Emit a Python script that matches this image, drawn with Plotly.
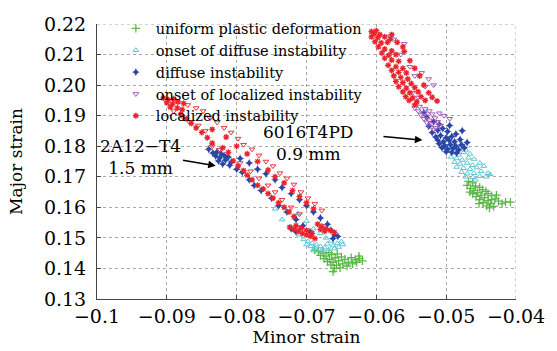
import plotly.graph_objects as go

# ---------------- data (minor strain, major strain) ----------------
# 2A12-T4, 1.5 mm
A_uniform = [(-0.0683,0.1455),(-0.0676,0.1450),(-0.0668,0.1452),(-0.0680,0.1443),(-0.0672,0.1440),
             (-0.0664,0.1445),(-0.0656,0.1448),(-0.0675,0.1432),(-0.0667,0.1430),(-0.0659,0.1435),
             (-0.0650,0.1438),(-0.0670,0.1422),(-0.0662,0.1420),(-0.0654,0.1425),(-0.0645,0.1430),
             (-0.0665,0.1412),(-0.0657,0.1410),(-0.0648,0.1415),(-0.0640,0.1420),(-0.0660,0.1400),
             (-0.0652,0.1402),(-0.0662,0.1390),(-0.0636,0.1435),(-0.0630,0.1428),(-0.0624,0.1432),
             (-0.0628,0.1420),(-0.0620,0.1425),(-0.0634,0.1415),(-0.0642,0.1408),(-0.0625,0.1440),
             (-0.0688,0.1460)]
A_onset_diffuse = [(-0.0704,0.1495),(-0.0698,0.1488),(-0.0692,0.1482),(-0.0686,0.1478),(-0.0680,0.1472),
                   (-0.0674,0.1468),(-0.0668,0.1462),(-0.0700,0.1478),(-0.0694,0.1472),(-0.0688,0.1466),
                   (-0.0682,0.1462),(-0.0676,0.1458),(-0.0690,0.1458),(-0.0662,0.1475),(-0.0656,0.1482),
                   (-0.0650,0.1488),(-0.0660,0.1465),(-0.0654,0.1470),(-0.0648,0.1478),(-0.0670,0.1480),
                   (-0.0665,0.1490),(-0.0710,0.1510),(-0.0722,0.1535),(-0.0735,0.1560),(-0.0700,0.1555),
                   (-0.0690,0.1530),(-0.0712,0.1580),(-0.0745,0.1595),(-0.0680,0.1515),(-0.0672,0.1500)]
A_diffuse = [(-0.0834,0.1778),(-0.0828,0.1782),(-0.0822,0.1775),(-0.0830,0.1768),(-0.0824,0.1762),
             (-0.0818,0.1770),(-0.0812,0.1765),(-0.0826,0.1752),(-0.0816,0.1755),(-0.0808,0.1748),
             (-0.0820,0.1742),(-0.0810,0.1738),(-0.0840,0.1790),
             (-0.0800,0.1725),(-0.0792,0.1715),(-0.0782,0.1690),(-0.0775,0.1672),(-0.0765,0.1655),
             (-0.0750,0.1630),(-0.0740,0.1605),(-0.0728,0.1585),(-0.0715,0.1560),(-0.0705,0.1540),
             (-0.0695,0.1520),(-0.0722,0.1530),(-0.0715,0.1520),
             (-0.0795,0.1760),(-0.0782,0.1745),(-0.0770,0.1725),(-0.0758,0.1710),(-0.0745,0.1690),
             (-0.0735,0.1665),(-0.0722,0.1645),(-0.0710,0.1625),(-0.0700,0.1605),(-0.0690,0.1585),
             (-0.0680,0.1565),(-0.0670,0.1545),(-0.0665,0.1525),(-0.0660,0.1510),(-0.0655,0.1505),
             (-0.0662,0.1498)]
A_onset_localized = [(-0.0902,0.1950),(-0.0888,0.1948),(-0.0870,0.1935),(-0.0858,0.1925),(-0.0848,0.1915),
                     (-0.0890,0.1915),(-0.0878,0.1898),(-0.0868,0.1880),(-0.0855,0.1868),(-0.0845,0.1850),
                     (-0.0838,0.1892),(-0.0828,0.1878),(-0.0818,0.1860),(-0.0808,0.1845),(-0.0798,0.1825),
                     (-0.0790,0.1805),(-0.0778,0.1790),(-0.0768,0.1770),(-0.0758,0.1750),(-0.0748,0.1735),
                     (-0.0738,0.1712),(-0.0728,0.1695),(-0.0718,0.1675),(-0.0708,0.1650),(-0.0698,0.1630),
                     (-0.0688,0.1612),(-0.0678,0.1590),(-0.0835,0.1800),(-0.0825,0.1788),(-0.0795,0.1745),
                     (-0.0780,0.1718),(-0.0768,0.1695),(-0.0755,0.1672),(-0.0745,0.1650),(-0.0735,0.1625),
                     (-0.0722,0.1600),(-0.0710,0.1578)]
A_localized = [(-0.0905,0.1958),(-0.0898,0.1952),(-0.0890,0.1955),(-0.0900,0.1942),(-0.0892,0.1938),
               (-0.0884,0.1945),(-0.0876,0.1940),(-0.0895,0.1928),(-0.0885,0.1925),(-0.0878,0.1920),
               (-0.0880,0.1905),(-0.0872,0.1890),(-0.0865,0.1875),(-0.0858,0.1860),(-0.0850,0.1845),
               (-0.0842,0.1828),(-0.0835,0.1810),(-0.0820,0.1795),(-0.0812,0.1780),(-0.0805,0.1752),
               (-0.0798,0.1735),(-0.0790,0.1720),(-0.0785,0.1705),(-0.0778,0.1690),(-0.0770,0.1672),
               (-0.0762,0.1660),(-0.0755,0.1645),(-0.0748,0.1630),(-0.0740,0.1615),(-0.0732,0.1600),
               (-0.0725,0.1585),(-0.0718,0.1570),(-0.0724,0.1535),(-0.0718,0.1528),(-0.0712,0.1522),
               (-0.0706,0.1515),(-0.0700,0.1510),(-0.0694,0.1505),(-0.0688,0.1498),(-0.0715,0.1540),
               (-0.0708,0.1532),(-0.0700,0.1525),(-0.0692,0.1515),
               (-0.0835,0.1855),(-0.0815,0.1830),(-0.0800,0.1800),(-0.0785,0.1775),(-0.0770,0.1750),
               (-0.0755,0.1722),(-0.0745,0.1700),(-0.0732,0.1680),(-0.0720,0.1655),(-0.0710,0.1635),
               (-0.0700,0.1615),(-0.0690,0.1595),(-0.0684,0.1545),(-0.0678,0.1538),(-0.0672,0.1530),
               (-0.0666,0.1525),(-0.0660,0.1518),(-0.0680,0.1528),(-0.0674,0.1522)]

# 6016T4PD, 0.9 mm
B_uniform = [(-0.0468,0.1685),(-0.0462,0.1680),(-0.0470,0.1672),(-0.0458,0.1670),(-0.0465,0.1662),
             (-0.0452,0.1665),(-0.0460,0.1655),(-0.0448,0.1658),(-0.0455,0.1648),(-0.0443,0.1652),
             (-0.0462,0.1645),(-0.0450,0.1640),(-0.0440,0.1645),(-0.0457,0.1635),(-0.0445,0.1632),
             (-0.0435,0.1638),(-0.0452,0.1625),(-0.0440,0.1622),(-0.0430,0.1628),(-0.0447,0.1615),
             (-0.0436,0.1612),(-0.0425,0.1620),(-0.0442,0.1605),(-0.0432,0.1603),(-0.0420,0.1612),
             (-0.0415,0.1618),(-0.0408,0.1617),(-0.0438,0.1598),(-0.0453,0.1612),(-0.0466,0.1650),
             (-0.0428,0.1640),(-0.0435,0.1625)]
B_onset_diffuse = [(-0.0503,0.1795),(-0.0495,0.1800),(-0.0488,0.1792),(-0.0480,0.1796),(-0.0472,0.1788),
                   (-0.0498,0.1785),(-0.0490,0.1778),(-0.0482,0.1772),(-0.0475,0.1780),(-0.0466,0.1775),
                   (-0.0493,0.1765),(-0.0485,0.1760),(-0.0477,0.1755),(-0.0468,0.1762),(-0.0460,0.1758),
                   (-0.0488,0.1748),(-0.0480,0.1742),(-0.0470,0.1745),(-0.0462,0.1738),(-0.0452,0.1745),
                   (-0.0485,0.1732),(-0.0475,0.1728),(-0.0466,0.1725),(-0.0456,0.1730),(-0.0446,0.1735),
                   (-0.0478,0.1715),(-0.0470,0.1710),(-0.0460,0.1712),(-0.0450,0.1718),(-0.0440,0.1712),
                   (-0.0472,0.1700),(-0.0462,0.1698),(-0.0452,0.1702),(-0.0443,0.1700),(-0.0437,0.1708),
                   (-0.0458,0.1690)]
B_diffuse = [(-0.0515,0.1830),(-0.0508,0.1835),(-0.0500,0.1828),(-0.0492,0.1832),(-0.0512,0.1820),
             (-0.0504,0.1815),(-0.0496,0.1820),(-0.0488,0.1815),(-0.0480,0.1822),(-0.0510,0.1808),
             (-0.0502,0.1802),(-0.0494,0.1806),(-0.0486,0.1800),(-0.0478,0.1805),(-0.0506,0.1795),
             (-0.0498,0.1790),(-0.0490,0.1793),(-0.0482,0.1788),(-0.0474,0.1795),(-0.0500,0.1782),
             (-0.0492,0.1780),(-0.0485,0.1778),(-0.0520,0.1845),(-0.0512,0.1852),(-0.0505,0.1858),
             (-0.0525,0.1865),(-0.0498,0.1848),(-0.0477,0.1851),(-0.0518,0.1880),(-0.0528,0.1895),
             (-0.0510,0.1872),(-0.0532,0.1910),(-0.0495,0.1868),(-0.0486,0.1840),(-0.0470,0.1812)]
B_onset_localized = [(-0.0545,0.1925),(-0.0538,0.1930),(-0.0530,0.1922),(-0.0540,0.1915),(-0.0532,0.1910),
                     (-0.0524,0.1915),(-0.0536,0.1902),(-0.0528,0.1898),(-0.0520,0.1905),(-0.0532,0.1890),
                     (-0.0524,0.1885),(-0.0516,0.1892),(-0.0528,0.1878),(-0.0520,0.1872),(-0.0512,0.1880),
                     (-0.0524,0.1865),(-0.0515,0.1860),(-0.0508,0.1868),(-0.0518,0.1855),(-0.0503,0.1900),
                     (-0.0495,0.1890),(-0.0510,0.1908),(-0.0535,0.2040),(-0.0525,0.2020),(-0.0518,0.2000),
                     (-0.0530,0.1995),(-0.0545,0.2030),(-0.0565,0.2100),(-0.0575,0.2150),(-0.0560,0.2135),
                     (-0.0552,0.2060),(-0.0540,0.1960),(-0.0548,0.1975),(-0.0580,0.2160)]
B_localized = [(-0.0607,0.2175),(-0.0600,0.2178),(-0.0603,0.2168),(-0.0595,0.2165),(-0.0607,0.2158),
               (-0.0598,0.2155),(-0.0588,0.2158),(-0.0580,0.2150),(-0.0602,0.2142),(-0.0593,0.2138),
               (-0.0584,0.2140),(-0.0562,0.2125),(-0.0597,0.2125),(-0.0588,0.2118),(-0.0578,0.2112),
               (-0.0592,0.2105),(-0.0582,0.2098),(-0.0572,0.2100),(-0.0588,0.2088),(-0.0578,0.2082),
               (-0.0568,0.2078),(-0.0583,0.2065),(-0.0572,0.2060),(-0.0562,0.2055),(-0.0578,0.2048),
               (-0.0568,0.2042),(-0.0557,0.2040),(-0.0575,0.2030),(-0.0565,0.2025),(-0.0555,0.2020),
               (-0.0572,0.2012),(-0.0562,0.2008),(-0.0550,0.2005),(-0.0568,0.1995),(-0.0557,0.1990),
               (-0.0545,0.1992),(-0.0562,0.1978),(-0.0552,0.1975),(-0.0540,0.1978),(-0.0558,0.1962),
               (-0.0548,0.1958),(-0.0536,0.1962),(-0.0553,0.1950),(-0.0542,0.1945),(-0.0530,0.1950),
               (-0.0513,0.1948),(-0.0545,0.1935),(-0.0578,0.2165),(-0.0570,0.2140),(-0.0560,0.2110),
               (-0.0552,0.2080),(-0.0545,0.2055),(-0.0538,0.2030),(-0.0532,0.2000),(-0.0525,0.1975),
               (-0.0520,0.1960)]

series_names = ["uniform plastic deformation", "onset of diffuse instability", "diffuse instability",
                "onset of localized instability", "localized instability"]
x_ticks = [-0.1, -0.09, -0.08, -0.07, -0.06, -0.05, -0.04]
y_ticks = [0.13, 0.14, 0.15, 0.16, 0.17, 0.18, 0.19, 0.20, 0.21, 0.22]

FONT = "DejaVu Serif"


def xs(p):
    return [a for a, b in p]


def ys(p):
    return [b for a, b in p]


styles = [
    dict(symbol="cross-thin-open", color="#5cb848", size=6, width=1.3),
    dict(symbol="triangle-up-open", color="#5cc6d6", size=5, width=1),
    dict(symbol="star-diamond", color="#2a46a6", size=6, width=0),
    dict(symbol="triangle-down-open", color="#a05cbc", size=5, width=1),
    dict(symbol="asterisk-open", color="#e8242c", size=5, width=1.3),
]
groups = [
    A_uniform + B_uniform,
    A_onset_diffuse + B_onset_diffuse,
    A_diffuse + B_diffuse,
    B_onset_localized,
    A_localized + B_localized,
]

fig = go.Figure()
for i, (name, st, pts) in enumerate(zip(series_names, styles, groups)):
    if i == 4:
        # red-drawn onset triangles in the 2A12-T4 cloud
        fig.add_trace(go.Scatter(
            x=xs(A_onset_localized), y=ys(A_onset_localized), mode="markers", showlegend=False,
            marker=dict(symbol="triangle-down-open", color="#e8343c", size=5, line=dict(width=1)),
            hoverinfo="skip"))
    fig.add_trace(go.Scatter(
        x=xs(pts), y=ys(pts), mode="markers", name=name,
        marker=dict(symbol=st["symbol"], color=st["color"], size=st["size"],
                    line=dict(width=st["width"], color=st["color"]))))

axis_common = dict(
    showline=True, linecolor="#444", linewidth=1, mirror=False,
    ticks="inside", ticklen=4, tickcolor="#444",
    showgrid=True, gridcolor="#a8a8a8", griddash="dot", gridwidth=1,
    zeroline=False, tickfont=dict(family=FONT, size=19, color="black"),
)

fig.update_layout(
    width=557, height=351,
    margin=dict(l=97, r=34, t=16, b=46),
    paper_bgcolor="white", plot_bgcolor="white",
    font=dict(family=FONT, color="black"),
    xaxis=dict(range=[-0.1, -0.04], tickvals=x_ticks,
               title=dict(text="Minor strain", font=dict(family=FONT, size=17), standoff=0),
               **axis_common),
    yaxis=dict(range=[0.13, 0.22], tickvals=y_ticks, tickformat=".2f", ticklabelstandoff=6,
               title=dict(text="Major strain", font=dict(family=FONT, size=17), standoff=16),
               **axis_common),
    legend=dict(x=0.045, y=1.042, xanchor="left", yanchor="top", bgcolor="rgba(0,0,0,0)",
                font=dict(family=FONT, size=14.5)),
    showlegend=True,
)

# dotted top / right borders (grid at the range ends)
fig.add_shape(type="line", xref="paper", x0=0, x1=1, yref="y", y0=0.22, y1=0.22,
              line=dict(color="#a8a8a8", width=1, dash="dot"))
fig.add_shape(type="line", xref="x", x0=-0.04, x1=-0.04, yref="paper", y0=0, y1=1,
              line=dict(color="#a8a8a8", width=1, dash="dot"))

# labels and arrows
fig.add_annotation(x=-0.0938, y=0.1764, xref="x", yref="y", text="2A12−T4<br>1.5 mm",
                   showarrow=False, font=dict(family=FONT, size=17), align="center")
fig.add_annotation(x=-0.0697, y=0.1811, xref="x", yref="y", text="6016T4PD<br>0.9 mm",
                   showarrow=False, font=dict(family=FONT, size=17), align="center")
fig.add_annotation(x=-0.0830, y=0.1736, ax=-0.0879, ay=0.1755, xref="x", yref="y",
                   axref="x", ayref="y", text="", showarrow=True, arrowhead=2,
                   arrowsize=1, arrowwidth=1.5, arrowcolor="black")
fig.add_annotation(x=-0.0534, y=0.1820, ax=-0.0592, ay=0.1832, xref="x", yref="y",
                   axref="x", ayref="y", text="", showarrow=True, arrowhead=2,
                   arrowsize=1, arrowwidth=1.5, arrowcolor="black")

fig.write_html("out.html", config={"displayModeBar": False},
               post_script="document.body.style.margin='0';document.body.style.padding='0';")
